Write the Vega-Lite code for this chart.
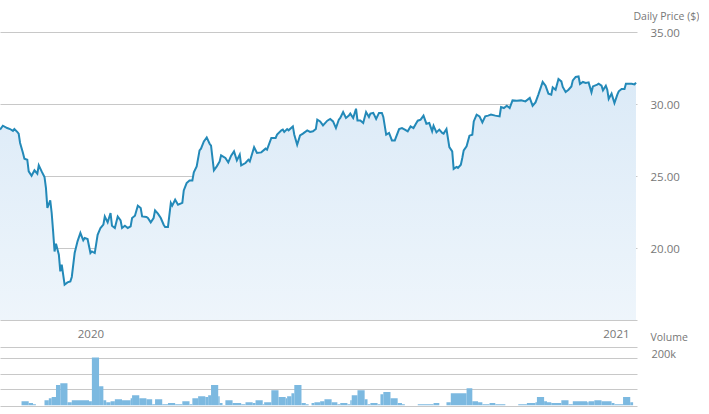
{
  "$schema": "https://vega.github.io/schema/vega-lite/v6.json",
  "padding": 0,
  "autosize": {"type": "pad"},
  "background": "white",
  "bounds": "flush",
  "spacing": 27,
  "config": {
    "view": {"stroke": null},
    "font": "Open Sans",
    "axis": {"labelFont": "Open Sans", "titleFont": "Open Sans"}
  },
  "datasets": {
    "price": [
      {"date": "2019-10-30", "price": 28.22}, {"date": "2019-11-01", "price": 28.49}, {"date": "2019-11-04", "price": 28.33},
      {"date": "2019-11-06", "price": 28.26}, {"date": "2019-11-08", "price": 28.13}, {"date": "2019-11-09", "price": 28.26},
      {"date": "2019-11-11", "price": 28.06}, {"date": "2019-11-12", "price": 27.94}, {"date": "2019-11-13", "price": 27.29},
      {"date": "2019-11-15", "price": 26.6}, {"date": "2019-11-16", "price": 26.2}, {"date": "2019-11-18", "price": 26.13},
      {"date": "2019-11-19", "price": 25.32}, {"date": "2019-11-21", "price": 25.02}, {"date": "2019-11-23", "price": 25.39},
      {"date": "2019-11-25", "price": 25.16}, {"date": "2019-11-26", "price": 25.74}, {"date": "2019-11-28", "price": 25.32},
      {"date": "2019-11-30", "price": 24.93}, {"date": "2019-12-01", "price": 24.17}, {"date": "2019-12-02", "price": 22.78},
      {"date": "2019-12-04", "price": 23.3}, {"date": "2019-12-05", "price": 22.43}, {"date": "2019-12-06", "price": 21.15},
      {"date": "2019-12-07", "price": 19.76}, {"date": "2019-12-08", "price": 20.3}, {"date": "2019-12-10", "price": 19.53},
      {"date": "2019-12-11", "price": 18.38}, {"date": "2019-12-12", "price": 18.84}, {"date": "2019-12-13", "price": 18.15},
      {"date": "2019-12-14", "price": 17.45}, {"date": "2019-12-16", "price": 17.61}, {"date": "2019-12-18", "price": 17.68},
      {"date": "2019-12-19", "price": 17.99}, {"date": "2019-12-21", "price": 19.65}, {"date": "2019-12-23", "price": 20.46},
      {"date": "2019-12-25", "price": 21.04}, {"date": "2019-12-27", "price": 20.53}, {"date": "2019-12-28", "price": 20.69},
      {"date": "2019-12-30", "price": 20.62}, {"date": "2020-01-01", "price": 19.65}, {"date": "2020-01-02", "price": 19.76},
      {"date": "2020-01-04", "price": 19.65}, {"date": "2020-01-06", "price": 20.92}, {"date": "2020-01-08", "price": 21.39},
      {"date": "2020-01-10", "price": 21.62}, {"date": "2020-01-11", "price": 22.19}, {"date": "2020-01-13", "price": 21.78},
      {"date": "2020-01-15", "price": 22.43}, {"date": "2020-01-16", "price": 21.55}, {"date": "2020-01-18", "price": 21.39},
      {"date": "2020-01-20", "price": 22.19}, {"date": "2020-01-22", "price": 21.92}, {"date": "2020-01-23", "price": 21.39},
      {"date": "2020-01-25", "price": 21.55}, {"date": "2020-01-27", "price": 21.39}, {"date": "2020-01-29", "price": 21.5},
      {"date": "2020-01-30", "price": 22.08}, {"date": "2020-02-01", "price": 22.24}, {"date": "2020-02-03", "price": 22.94},
      {"date": "2020-02-05", "price": 22.78}, {"date": "2020-02-06", "price": 22.19}, {"date": "2020-02-09", "price": 22.15},
      {"date": "2020-02-10", "price": 22.08}, {"date": "2020-02-12", "price": 21.78}, {"date": "2020-02-14", "price": 22.08},
      {"date": "2020-02-15", "price": 22.61}, {"date": "2020-02-17", "price": 22.38}, {"date": "2020-02-19", "price": 22.08},
      {"date": "2020-02-21", "price": 21.62}, {"date": "2020-02-22", "price": 21.46}, {"date": "2020-02-24", "price": 21.46},
      {"date": "2020-02-26", "price": 23.13}, {"date": "2020-02-27", "price": 22.94}, {"date": "2020-02-29", "price": 23.35},
      {"date": "2020-03-02", "price": 23.0}, {"date": "2020-03-05", "price": 23.13}, {"date": "2020-03-06", "price": 24.0},
      {"date": "2020-03-08", "price": 24.51}, {"date": "2020-03-10", "price": 24.69}, {"date": "2020-03-12", "price": 24.69},
      {"date": "2020-03-13", "price": 25.25}, {"date": "2020-03-15", "price": 25.67}, {"date": "2020-03-17", "price": 26.78},
      {"date": "2020-03-18", "price": 26.9}, {"date": "2020-03-20", "price": 27.4}, {"date": "2020-03-22", "price": 27.68},
      {"date": "2020-03-24", "price": 27.24}, {"date": "2020-03-25", "price": 27.1}, {"date": "2020-03-27", "price": 25.39},
      {"date": "2020-03-29", "price": 25.67}, {"date": "2020-03-31", "price": 26.01}, {"date": "2020-04-01", "price": 26.43},
      {"date": "2020-04-04", "price": 26.25}, {"date": "2020-04-06", "price": 25.94}, {"date": "2020-04-08", "price": 26.41},
      {"date": "2020-04-10", "price": 26.71}, {"date": "2020-04-12", "price": 26.08}, {"date": "2020-04-14", "price": 26.48},
      {"date": "2020-04-15", "price": 25.74}, {"date": "2020-04-18", "price": 25.9}, {"date": "2020-04-20", "price": 26.13},
      {"date": "2020-04-21", "price": 26.01}, {"date": "2020-04-24", "price": 27.0}, {"date": "2020-04-26", "price": 26.6},
      {"date": "2020-04-29", "price": 26.64}, {"date": "2020-05-02", "price": 26.9}, {"date": "2020-05-03", "price": 26.83},
      {"date": "2020-05-06", "price": 27.64}, {"date": "2020-05-09", "price": 27.64}, {"date": "2020-05-10", "price": 27.87},
      {"date": "2020-05-13", "price": 28.17}, {"date": "2020-05-14", "price": 28.22}, {"date": "2020-05-15", "price": 28.06},
      {"date": "2020-05-17", "price": 28.26}, {"date": "2020-05-18", "price": 28.17}, {"date": "2020-05-21", "price": 28.44},
      {"date": "2020-05-22", "price": 27.87}, {"date": "2020-05-24", "price": 27.17}, {"date": "2020-05-26", "price": 27.82},
      {"date": "2020-05-28", "price": 27.94}, {"date": "2020-05-31", "price": 28.17}, {"date": "2020-06-02", "price": 28.06},
      {"date": "2020-06-04", "price": 28.1}, {"date": "2020-06-06", "price": 28.26}, {"date": "2020-06-07", "price": 28.91},
      {"date": "2020-06-09", "price": 28.79}, {"date": "2020-06-11", "price": 28.51}, {"date": "2020-06-14", "price": 28.84},
      {"date": "2020-06-16", "price": 28.96}, {"date": "2020-06-18", "price": 28.79}, {"date": "2020-06-20", "price": 28.33},
      {"date": "2020-06-22", "price": 28.91}, {"date": "2020-06-23", "price": 29.03}, {"date": "2020-06-25", "price": 29.44},
      {"date": "2020-06-27", "price": 29.03}, {"date": "2020-06-29", "price": 29.19}, {"date": "2020-06-30", "price": 29.33},
      {"date": "2020-07-02", "price": 29.03}, {"date": "2020-07-04", "price": 29.67}, {"date": "2020-07-05", "price": 28.86},
      {"date": "2020-07-07", "price": 28.86}, {"date": "2020-07-09", "price": 28.68}, {"date": "2020-07-11", "price": 29.44},
      {"date": "2020-07-13", "price": 29.1}, {"date": "2020-07-14", "price": 29.33}, {"date": "2020-07-16", "price": 29.38},
      {"date": "2020-07-18", "price": 28.96}, {"date": "2020-07-20", "price": 29.38}, {"date": "2020-07-22", "price": 29.38},
      {"date": "2020-07-23", "price": 29.1}, {"date": "2020-07-25", "price": 27.87}, {"date": "2020-07-27", "price": 27.99},
      {"date": "2020-07-29", "price": 27.47}, {"date": "2020-07-31", "price": 27.47}, {"date": "2020-08-03", "price": 28.26},
      {"date": "2020-08-05", "price": 28.33}, {"date": "2020-08-07", "price": 28.22}, {"date": "2020-08-09", "price": 28.1},
      {"date": "2020-08-11", "price": 28.44}, {"date": "2020-08-13", "price": 28.33}, {"date": "2020-08-15", "price": 28.68},
      {"date": "2020-08-16", "price": 28.84}, {"date": "2020-08-18", "price": 28.91}, {"date": "2020-08-20", "price": 29.19},
      {"date": "2020-08-22", "price": 28.63}, {"date": "2020-08-24", "price": 28.68}, {"date": "2020-08-26", "price": 28.1},
      {"date": "2020-08-27", "price": 28.49}, {"date": "2020-08-29", "price": 28.03}, {"date": "2020-08-31", "price": 28.22},
      {"date": "2020-09-02", "price": 27.99}, {"date": "2020-09-03", "price": 27.94}, {"date": "2020-09-05", "price": 28.26},
      {"date": "2020-09-07", "price": 27.01}, {"date": "2020-09-09", "price": 26.71}, {"date": "2020-09-10", "price": 25.49},
      {"date": "2020-09-12", "price": 25.63}, {"date": "2020-09-13", "price": 25.56}, {"date": "2020-09-15", "price": 25.78},
      {"date": "2020-09-16", "price": 26.25}, {"date": "2020-09-17", "price": 26.78}, {"date": "2020-09-19", "price": 27.06},
      {"date": "2020-09-21", "price": 27.8}, {"date": "2020-09-23", "price": 27.87}, {"date": "2020-09-24", "price": 28.79},
      {"date": "2020-09-26", "price": 29.26}, {"date": "2020-09-28", "price": 29.14}, {"date": "2020-09-30", "price": 28.72},
      {"date": "2020-10-02", "price": 29.14}, {"date": "2020-10-04", "price": 29.19}, {"date": "2020-10-06", "price": 29.26},
      {"date": "2020-10-09", "price": 29.19}, {"date": "2020-10-12", "price": 29.14}, {"date": "2020-10-13", "price": 29.79},
      {"date": "2020-10-15", "price": 29.72}, {"date": "2020-10-17", "price": 29.88}, {"date": "2020-10-19", "price": 29.72},
      {"date": "2020-10-21", "price": 30.25}, {"date": "2020-10-24", "price": 30.23}, {"date": "2020-10-27", "price": 30.25},
      {"date": "2020-10-30", "price": 30.18}, {"date": "2020-11-02", "price": 30.42}, {"date": "2020-11-04", "price": 29.88},
      {"date": "2020-11-06", "price": 30.11}, {"date": "2020-11-08", "price": 30.65}, {"date": "2020-11-11", "price": 31.53},
      {"date": "2020-11-13", "price": 31.27}, {"date": "2020-11-15", "price": 30.72}, {"date": "2020-11-17", "price": 30.65},
      {"date": "2020-11-18", "price": 31.15}, {"date": "2020-11-20", "price": 30.99}, {"date": "2020-11-22", "price": 31.74},
      {"date": "2020-11-24", "price": 31.57}, {"date": "2020-11-25", "price": 31.18}, {"date": "2020-11-27", "price": 30.83},
      {"date": "2020-11-29", "price": 30.99}, {"date": "2020-12-01", "price": 31.22}, {"date": "2020-12-02", "price": 31.64},
      {"date": "2020-12-04", "price": 31.88}, {"date": "2020-12-06", "price": 31.92}, {"date": "2020-12-07", "price": 31.39},
      {"date": "2020-12-09", "price": 31.53}, {"date": "2020-12-11", "price": 31.46}, {"date": "2020-12-13", "price": 31.5},
      {"date": "2020-12-15", "price": 30.81}, {"date": "2020-12-16", "price": 31.22}, {"date": "2020-12-19", "price": 31.34},
      {"date": "2020-12-20", "price": 31.41}, {"date": "2020-12-22", "price": 31.27}, {"date": "2020-12-23", "price": 30.95},
      {"date": "2020-12-25", "price": 31.27}, {"date": "2020-12-26", "price": 30.99}, {"date": "2020-12-27", "price": 30.35},
      {"date": "2020-12-29", "price": 30.72}, {"date": "2020-12-31", "price": 30.07}, {"date": "2021-01-02", "price": 30.65},
      {"date": "2021-01-03", "price": 30.88}, {"date": "2021-01-05", "price": 31.04}, {"date": "2021-01-07", "price": 31.04},
      {"date": "2021-01-08", "price": 31.41}, {"date": "2021-01-10", "price": 31.41}, {"date": "2021-01-12", "price": 31.41},
      {"date": "2021-01-14", "price": 31.36}, {"date": "2021-01-15", "price": 31.48}
    ],
    "volume": [
      {"start": "2019-11-14", "end": "2019-11-19", "volume": 18000},
      {"start": "2019-11-19", "end": "2019-11-22", "volume": 10000},
      {"start": "2019-11-22", "end": "2019-11-24", "volume": 5000},
      {"start": "2019-11-30", "end": "2019-12-03", "volume": 22000},
      {"start": "2019-12-03", "end": "2019-12-05", "volume": 30000},
      {"start": "2019-12-05", "end": "2019-12-08", "volume": 35000},
      {"start": "2019-12-08", "end": "2019-12-11", "volume": 85000},
      {"start": "2019-12-11", "end": "2019-12-16", "volume": 93000},
      {"start": "2019-12-16", "end": "2019-12-19", "volume": 14000},
      {"start": "2019-12-19", "end": "2019-12-31", "volume": 22000},
      {"start": "2019-12-31", "end": "2020-01-02", "volume": 18000},
      {"start": "2020-01-02", "end": "2020-01-07", "volume": 200000},
      {"start": "2020-01-07", "end": "2020-01-10", "volume": 80000},
      {"start": "2020-01-10", "end": "2020-01-12", "volume": 22000},
      {"start": "2020-01-12", "end": "2020-01-15", "volume": 14000},
      {"start": "2020-01-15", "end": "2020-01-18", "volume": 18000},
      {"start": "2020-01-18", "end": "2020-01-23", "volume": 26000},
      {"start": "2020-01-23", "end": "2020-01-29", "volume": 22000},
      {"start": "2020-01-29", "end": "2020-01-30", "volume": 30000},
      {"start": "2020-01-30", "end": "2020-02-04", "volume": 43000},
      {"start": "2020-02-04", "end": "2020-02-09", "volume": 30000},
      {"start": "2020-02-09", "end": "2020-02-13", "volume": 26000},
      {"start": "2020-02-13", "end": "2020-02-15", "volume": 5000},
      {"start": "2020-02-15", "end": "2020-02-20", "volume": 26000},
      {"start": "2020-02-20", "end": "2020-02-24", "volume": 5000},
      {"start": "2020-02-24", "end": "2020-02-29", "volume": 10000},
      {"start": "2020-02-29", "end": "2020-03-05", "volume": 5000},
      {"start": "2020-03-05", "end": "2020-03-10", "volume": 18000},
      {"start": "2020-03-10", "end": "2020-03-12", "volume": 5000},
      {"start": "2020-03-12", "end": "2020-03-16", "volume": 30000},
      {"start": "2020-03-16", "end": "2020-03-21", "volume": 39000},
      {"start": "2020-03-21", "end": "2020-03-23", "volume": 35000},
      {"start": "2020-03-23", "end": "2020-03-25", "volume": 43000},
      {"start": "2020-03-25", "end": "2020-03-30", "volume": 85000},
      {"start": "2020-03-30", "end": "2020-03-31", "volume": 39000},
      {"start": "2020-03-31", "end": "2020-04-02", "volume": 10000},
      {"start": "2020-04-02", "end": "2020-04-04", "volume": 2000},
      {"start": "2020-04-04", "end": "2020-04-09", "volume": 22000},
      {"start": "2020-04-09", "end": "2020-04-15", "volume": 10000},
      {"start": "2020-04-15", "end": "2020-04-18", "volume": 5000},
      {"start": "2020-04-18", "end": "2020-04-23", "volume": 14000},
      {"start": "2020-04-23", "end": "2020-04-25", "volume": 10000},
      {"start": "2020-04-25", "end": "2020-04-30", "volume": 22000},
      {"start": "2020-04-30", "end": "2020-05-01", "volume": 5000},
      {"start": "2020-05-01", "end": "2020-05-06", "volume": 14000},
      {"start": "2020-05-06", "end": "2020-05-11", "volume": 64000},
      {"start": "2020-05-11", "end": "2020-05-16", "volume": 35000},
      {"start": "2020-05-16", "end": "2020-05-17", "volume": 30000},
      {"start": "2020-05-17", "end": "2020-05-20", "volume": 39000},
      {"start": "2020-05-20", "end": "2020-05-22", "volume": 51000},
      {"start": "2020-05-22", "end": "2020-05-27", "volume": 85000},
      {"start": "2020-05-27", "end": "2020-05-30", "volume": 10000},
      {"start": "2020-05-30", "end": "2020-06-01", "volume": 5000},
      {"start": "2020-06-03", "end": "2020-06-05", "volume": 10000},
      {"start": "2020-06-05", "end": "2020-06-09", "volume": 14000},
      {"start": "2020-06-09", "end": "2020-06-12", "volume": 18000},
      {"start": "2020-06-12", "end": "2020-06-17", "volume": 26000},
      {"start": "2020-06-17", "end": "2020-06-21", "volume": 14000},
      {"start": "2020-06-21", "end": "2020-06-23", "volume": 5000},
      {"start": "2020-06-23", "end": "2020-06-28", "volume": 10000},
      {"start": "2020-06-28", "end": "2020-06-30", "volume": 5000},
      {"start": "2020-06-30", "end": "2020-07-01", "volume": 22000},
      {"start": "2020-07-01", "end": "2020-07-05", "volume": 43000},
      {"start": "2020-07-05", "end": "2020-07-10", "volume": 64000},
      {"start": "2020-07-10", "end": "2020-07-12", "volume": 26000},
      {"start": "2020-07-12", "end": "2020-07-14", "volume": 5000},
      {"start": "2020-07-14", "end": "2020-07-19", "volume": 10000},
      {"start": "2020-07-19", "end": "2020-07-21", "volume": 5000},
      {"start": "2020-07-21", "end": "2020-07-23", "volume": 47000},
      {"start": "2020-07-23", "end": "2020-07-28", "volume": 56000},
      {"start": "2020-07-28", "end": "2020-08-02", "volume": 30000},
      {"start": "2020-08-02", "end": "2020-08-05", "volume": 10000},
      {"start": "2020-08-05", "end": "2020-08-07", "volume": 5000},
      {"start": "2020-08-16", "end": "2020-08-27", "volume": 5000},
      {"start": "2020-08-27", "end": "2020-08-31", "volume": 10000},
      {"start": "2020-09-05", "end": "2020-09-08", "volume": 14000},
      {"start": "2020-09-08", "end": "2020-09-19", "volume": 51000},
      {"start": "2020-09-19", "end": "2020-09-23", "volume": 72000},
      {"start": "2020-09-23", "end": "2020-09-27", "volume": 18000},
      {"start": "2020-09-27", "end": "2020-09-30", "volume": 14000},
      {"start": "2020-09-30", "end": "2020-10-05", "volume": 5000},
      {"start": "2020-10-05", "end": "2020-10-09", "volume": 10000},
      {"start": "2020-10-09", "end": "2020-10-16", "volume": 5000},
      {"start": "2020-10-25", "end": "2020-10-31", "volume": 5000},
      {"start": "2020-10-31", "end": "2020-11-06", "volume": 10000},
      {"start": "2020-11-06", "end": "2020-11-07", "volume": 14000},
      {"start": "2020-11-07", "end": "2020-11-12", "volume": 35000},
      {"start": "2020-11-12", "end": "2020-11-14", "volume": 18000},
      {"start": "2020-11-14", "end": "2020-11-17", "volume": 14000},
      {"start": "2020-11-17", "end": "2020-11-24", "volume": 10000},
      {"start": "2020-11-24", "end": "2020-11-29", "volume": 22000},
      {"start": "2020-11-29", "end": "2020-12-02", "volume": 5000},
      {"start": "2020-12-02", "end": "2020-12-12", "volume": 18000},
      {"start": "2020-12-12", "end": "2020-12-13", "volume": 14000},
      {"start": "2020-12-13", "end": "2020-12-17", "volume": 18000},
      {"start": "2020-12-17", "end": "2020-12-22", "volume": 22000},
      {"start": "2020-12-22", "end": "2020-12-29", "volume": 18000},
      {"start": "2020-12-29", "end": "2020-12-31", "volume": 10000},
      {"start": "2020-12-31", "end": "2021-01-06", "volume": 5000},
      {"start": "2021-01-06", "end": "2021-01-11", "volume": 35000},
      {"start": "2021-01-11", "end": "2021-01-13", "volume": 14000}
    ]
  },
  "vconcat": [
    {
      "width": 637,
      "height": 320,
      "data": {"name": "price"},
      "encoding": {
        "x": {
          "field": "date",
          "type": "temporal",
          "scale": {
            "type": "utc",
            "domain": [
              {"year": 2019, "month": 10, "date": 30, "utc": true},
              {"year": 2021, "month": 1, "date": 15, "hours": 17, "utc": true}
            ]
          },
          "axis": {
            "values": [
              {"year": 2020, "month": 1, "date": 1, "utc": true},
              {"year": 2021, "month": 1, "date": 1, "utc": true}
            ],
            "format": "%Y",
            "formatType": "utc",
            "grid": false,
            "domain": false,
            "ticks": false,
            "labelFlush": false,
            "labelOverlap": false,
            "labelPadding": 17,
            "labelBaseline": "alphabetic",
            "labelFontSize": 11.5,
            "labelColor": "#777777",
            "title": null
          }
        },
        "y": {
          "field": "price",
          "type": "quantitative",
          "scale": {"domain": [15, 37.22], "zero": false, "nice": false},
          "axis": {
            "orient": "right",
            "values": [15, 20, 25, 30, 35],
            "labelExpr": "datum.value == 15 ? '' : format(datum.value, '.2f')",
            "grid": true,
            "gridColor": "#c8c8c8",
            "domain": false,
            "ticks": false,
            "labelOverlap": false,
            "labelPadding": 13,
            "labelFontSize": 11.5,
            "labelColor": "#777777",
            "labelBaseline": "middle",
            "labelOffset": 2,
            "title": "Daily Price ($)",
            "titleAngle": 0,
            "titleX": -4,
            "titleY": 19,
            "titleAlign": "left",
            "titleBaseline": "alphabetic",
            "titleFontSize": 10.5,
            "titleFontWeight": "normal",
            "titleColor": "#777777"
          }
        }
      },
      "layer": [
        {
          "mark": {
            "type": "area",
            "clip": true,
            "fill": {
              "gradient": "linear",
              "x1": 0, "y1": 0, "x2": 0, "y2": 1,
              "stops": [
                {"offset": 0, "color": "#dbeaf7"},
                {"offset": 1, "color": "#ffffff"}
              ]
            }
          }
        },
        {
          "mark": {"type": "line", "clip": true, "stroke": "#2389b8", "strokeWidth": 2}
        }
      ]
    },
    {
      "width": 637,
      "height": 58.5,
      "data": {"name": "volume"},
      "mark": {"type": "rect", "color": "#7cb9e0", "clip": true},
      "encoding": {
        "x": {
          "field": "start",
          "type": "temporal",
          "scale": {
            "type": "utc",
            "domain": [
              {"year": 2019, "month": 10, "date": 30, "utc": true},
              {"year": 2021, "month": 1, "date": 15, "hours": 17, "utc": true}
            ]
          },
          "axis": null
        },
        "x2": {"field": "end"},
        "y": {
          "field": "volume",
          "type": "quantitative",
          "scale": {"domain": [0, 243750], "nice": false},
          "axis": {
            "orient": "right",
            "values": [0, 66667, 133333, 200000, 243750],
            "labelExpr": "datum.value == 200000 ? '200k' : ''",
            "grid": true,
            "gridColor": "#c8c8c8",
            "domain": false,
            "ticks": false,
            "labelOverlap": false,
            "labelPadding": 14,
            "labelFontSize": 11,
            "labelColor": "#777777",
            "labelBaseline": "alphabetic",
            "title": "Volume",
            "titleAngle": 0,
            "titleX": 13,
            "titleY": -7,
            "titleAlign": "left",
            "titleBaseline": "alphabetic",
            "titleFontSize": 10.5,
            "titleFontWeight": "normal",
            "titleColor": "#777777"
          }
        },
        "y2": {"datum": 0}
      }
    }
  ]
}
